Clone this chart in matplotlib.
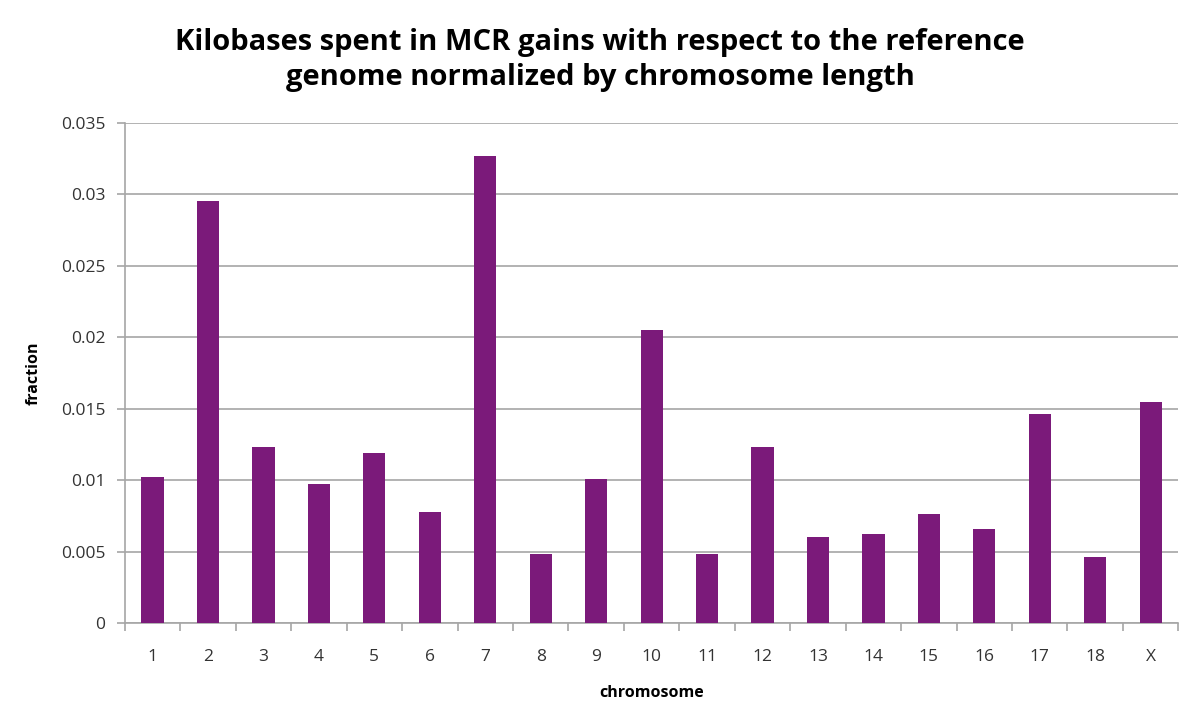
import matplotlib
matplotlib.use('Agg')
import matplotlib.pyplot as plt
import numpy as np

# data
chromosomes = ['1', '2', '3', '4', '5', '6', '7', '8', '9', '10',
               '11', '12', '13', '14', '15', '16', '17', '18', 'X']
fraction = [0.0102, 0.0295, 0.0123, 0.0097, 0.0119, 0.0078, 0.0327, 0.0048, 0.0101, 0.0205,
            0.0048, 0.0123, 0.0060, 0.0062, 0.0076, 0.0066, 0.0146, 0.0046, 0.0155]

plt.rcParams['font.family'] = ['Open Sans', 'DejaVu Sans']

fig = plt.figure(figsize=(12, 7.27), dpi=100)
ax = fig.add_axes([0.104, 0.143, 0.878, 0.688])

x = np.arange(len(chromosomes))
ax.bar(x, fraction, width=0.4, color='#7b1a7a', zorder=3)

ax.set_xlim(-0.5, len(chromosomes) - 0.5)
ax.set_ylim(0, 0.035)
ax.set_yticks(np.arange(0, 0.0351, 0.005))
ax.set_yticklabels(['0', '0.005', '0.01', '0.015', '0.02', '0.025', '0.03', '0.035'])
ax.yaxis.grid(True, color='#a6a6a6', linewidth=1.2, zorder=0)

#刻度标签在柱中间，刻度线在类别之间
ax.set_xticks(x)
ax.set_xticklabels(chromosomes)
ax.set_xticks(np.arange(-0.5, len(chromosomes), 1), minor=True)
ax.tick_params(axis='x', which='major', length=0, pad=19, labelsize=12.5, colors='#333333')
ax.tick_params(axis='x', which='minor', length=6, color='#a6a6a6', width=1.2)
ax.tick_params(axis='y', length=6, color='#a6a6a6', width=1.2, labelsize=12.5, labelcolor='#333333', pad=8)

for s in ['top', 'right']:
	ax.spines[s].set_visible(False)
for s in ['left', 'bottom']:
	ax.spines[s].set_color('#a6a6a6')
	ax.spines[s].set_linewidth(1.2)

ax.set_xlabel('chromosome', fontsize=11.5, fontweight='bold', labelpad=14)
ax.set_ylabel('fraction', fontsize=11.5, fontweight='bold', labelpad=14)
fig.suptitle('Kilobases spent in MCR gains with respect to the reference\ngenome normalized by chromosome length',
             x=0.5, y=0.962, fontsize=21, fontweight='bold', linespacing=1.3)

fig.savefig('out.png', dpi=100)
